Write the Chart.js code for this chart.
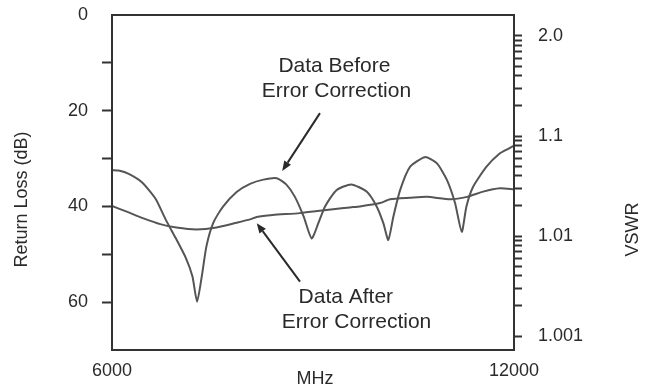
<!DOCTYPE html>
<html><head><meta charset="utf-8">
<script src="https://cdn.jsdelivr.net/npm/chart.js@4/dist/chart.umd.min.js"></script>
<style>html,body{margin:0;padding:0;background:#fff;}#wrap{width:649px;height:391px;position:relative;}</style>
</head><body><div id="wrap"><canvas id="c"></canvas></div>
<script>
// ---- data (frequency in MHz, return loss in dB) ----
const beforeFreq = [6000,6100,6250,6450,6650,6800,6950,7100,7200,7270,7340,7410,7510,7660,7860,8060,8260,8460,8600,8730,8860,8980,9080,9180,9350,9570,9800,9950,10050,10124,10200,10300,10450,10670,10850,11000,11120,11220,11290,11390,11590,11790,11920,12000];
const beforeRL   = [32.4,32.5,33.2,35.0,38.4,42.7,46.6,50.7,54.6,59.9,54.6,48.3,43.5,40.0,37.0,35.3,34.4,34.1,35.4,38.0,42.1,46.7,43.5,40.0,36.6,35.4,36.9,40.0,43.5,47.0,42.1,36.6,31.7,29.7,31.0,34.5,39.3,45.3,40.0,35.9,31.7,28.9,27.9,27.3];
const afterFreq  = [6000,6220,6470,6720,6960,7260,7560,7860,8060,8160,8400,8800,9100,9300,9550,9700,10000,10150,10450,10700,11050,11300,11540,11790,12000];
const afterRL    = [39.9,41.1,42.5,43.7,44.4,44.8,44.4,43.4,42.7,42.2,41.8,41.4,40.9,40.6,40.2,40.0,39.3,38.5,38.2,38.0,38.5,38.0,36.9,36.2,36.4];

// ---- axes ----
const xTickValues  = [6000, 12000];
const rlTickValues = [0,10,20,30,40,50,60];
const rlTickLabels = ['0','','20','','40','','60'];
const vswrMajorValues = [1, 0.1, 0.01, 0.001];          // VSWR - 1
const vswrMajorLabels = ['2.0','1.1','1.01','1.001'];
const vswrMinorSteps  = [2,3,4,5,6,7,8,9];

// ---- annotations (data coordinates: MHz, dB) ----
const noteText = ['Data Before','Error Correction','Data After','Error Correction'];
const noteFreq = [9320, 9350, 9490, 9650];
const noteRL   = [10.7, 15.9, 59.0, 64.2];
const arrowFromFreq = [9104, 8806];
const arrowFromRL   = [20.5, 55.7];
const arrowToFreq   = [8540, 8160];
const arrowToRL     = [32.6, 43.5];

const INK = '#2a2a2a';
const LINE = '#555555';
const FONT = '"Liberation Sans", Arial, Helvetica, sans-serif';

const vswrTicks = [];
vswrMajorValues.forEach(m => {
  vswrTicks.push(m);
  if (m < 1) vswrMinorSteps.forEach(k => vswrTicks.push(k * m));
});

const noPad = s => { s.paddingTop = 0; s.paddingBottom = 0; s.paddingLeft = 0; s.paddingRight = 0; };

const decor = {
  id: 'decor',
  afterDraw(chart) {
    const {ctx, chartArea: a, scales} = chart;
    const x = scales.x, y = scales.y;
    ctx.save();
    ctx.strokeStyle = '#333';
    ctx.lineWidth = 2;
    ctx.strokeRect(a.left, a.top, a.right - a.left, a.bottom - a.top);
    ctx.fillStyle = INK;
    ctx.font = '21px ' + FONT;
    ctx.textAlign = 'center';
    ctx.textBaseline = 'middle';
    noteText.forEach((t, i) => ctx.fillText(t, x.getPixelForValue(noteFreq[i]), y.getPixelForValue(noteRL[i])));
    ctx.strokeStyle = INK;
    ctx.lineWidth = 2;
    arrowFromFreq.forEach((f, i) => {
      const x0 = x.getPixelForValue(f), y0 = y.getPixelForValue(arrowFromRL[i]);
      const x1 = x.getPixelForValue(arrowToFreq[i]), y1 = y.getPixelForValue(arrowToRL[i]);
      const ang = Math.atan2(y1 - y0, x1 - x0);
      const hl = 10, hw = 4;
      const bx = x1 - hl * Math.cos(ang), by = y1 - hl * Math.sin(ang);
      ctx.beginPath(); ctx.moveTo(x0, y0); ctx.lineTo(bx, by); ctx.stroke();
      ctx.beginPath();
      ctx.moveTo(x1, y1);
      ctx.lineTo(bx + hw * Math.sin(ang), by - hw * Math.cos(ang));
      ctx.lineTo(bx - hw * Math.sin(ang), by + hw * Math.cos(ang));
      ctx.closePath(); ctx.fill();
    });
    ctx.font = '18px ' + FONT;
    ctx.save();
    ctx.translate(a.left - 90, (a.top + a.bottom) / 2 + 17);
    ctx.rotate(-Math.PI / 2);
    ctx.fillText('Return Loss (dB)', 0, 0);
    ctx.restore();
    ctx.save();
    ctx.translate(a.right + 119, (a.top + a.bottom) / 2 + 47);
    ctx.rotate(-Math.PI / 2);
    ctx.fillText('VSWR', 0, 0);
    ctx.restore();
    ctx.fillText('MHz', (a.left + a.right) / 2 + 2, a.bottom + 29);
    ctx.restore();
  }
};

new Chart(document.getElementById('c'), {
  type: 'line',
  data: {
    datasets: [
      { label: 'Data Before Error Correction', data: beforeFreq.map((f, i) => ({x: f, y: beforeRL[i]})),
        borderColor: LINE, borderWidth: 2, pointRadius: 0, tension: 0.2, fill: false, yAxisID: 'y' },
      { label: 'Data After Error Correction', data: afterFreq.map((f, i) => ({x: f, y: afterRL[i]})),
        borderColor: LINE, borderWidth: 2, pointRadius: 0, tension: 0.2, fill: false, yAxisID: 'y' }
    ]
  },
  options: {
    responsive: true, maintainAspectRatio: false, animation: false,
    layout: { padding: { top: 15, left: 0, right: 0, bottom: 0 } },
    plugins: { legend: { display: false }, tooltip: { enabled: false } },
    scales: {
      x: {
        type: 'linear', min: 6000, max: 12000,
        afterBuildTicks: s => { s.ticks = xTickValues.map(v => ({value: v})); },
        afterFit: s => { s.height = 41; noPad(s); },
        grid: { display: false, drawTicks: false },
        border: { display: true, color: '#333', width: 2 },
        ticks: { padding: 10, color: INK, font: { size: 18, family: FONT }, maxRotation: 0, autoSkip: false,
                 callback: v => String(v) }
      },
      y: {
        type: 'linear', position: 'left', reverse: true, min: 0, max: 70,
        afterBuildTicks: s => { s.ticks = rlTickValues.map(v => ({value: v})); },
        afterFit: s => { s.width = 112; noPad(s); },
        grid: { drawOnChartArea: false, drawTicks: true, tickLength: 10, tickWidth: 2,
                tickColor: c => (c.tick && c.tick.value === 0) ? 'rgba(0,0,0,0)' : '#333' },
        border: { display: true, color: '#333', width: 2 },
        ticks: { padding: 14, color: INK, font: { size: 18, family: FONT }, autoSkip: false,
                 callback: (v) => { const i = rlTickValues.indexOf(v); return i >= 0 ? rlTickLabels[i] : ''; } }
      },
      y2: {
        type: 'logarithmic', position: 'right', min: Math.pow(10, -3.14), max: Math.pow(10, 0.21),
        afterBuildTicks: s => { s.ticks = vswrTicks.map(v => ({value: v})); },
        afterFit: s => { s.width = 135; noPad(s); },
        grid: { drawOnChartArea: false, drawTicks: true, tickLength: 8, tickWidth: 2, tickColor: '#333' },
        border: { display: true, color: '#333', width: 2 },
        ticks: { padding: 16, color: INK, font: { size: 18, family: FONT }, autoSkip: false,
                 callback: (v) => { const i = vswrMajorValues.findIndex(m => Math.abs(m - v) < m * 1e-6); return i >= 0 ? vswrMajorLabels[i] : ''; } }
      }
    }
  },
  plugins: [decor]
});
</script></body></html>
